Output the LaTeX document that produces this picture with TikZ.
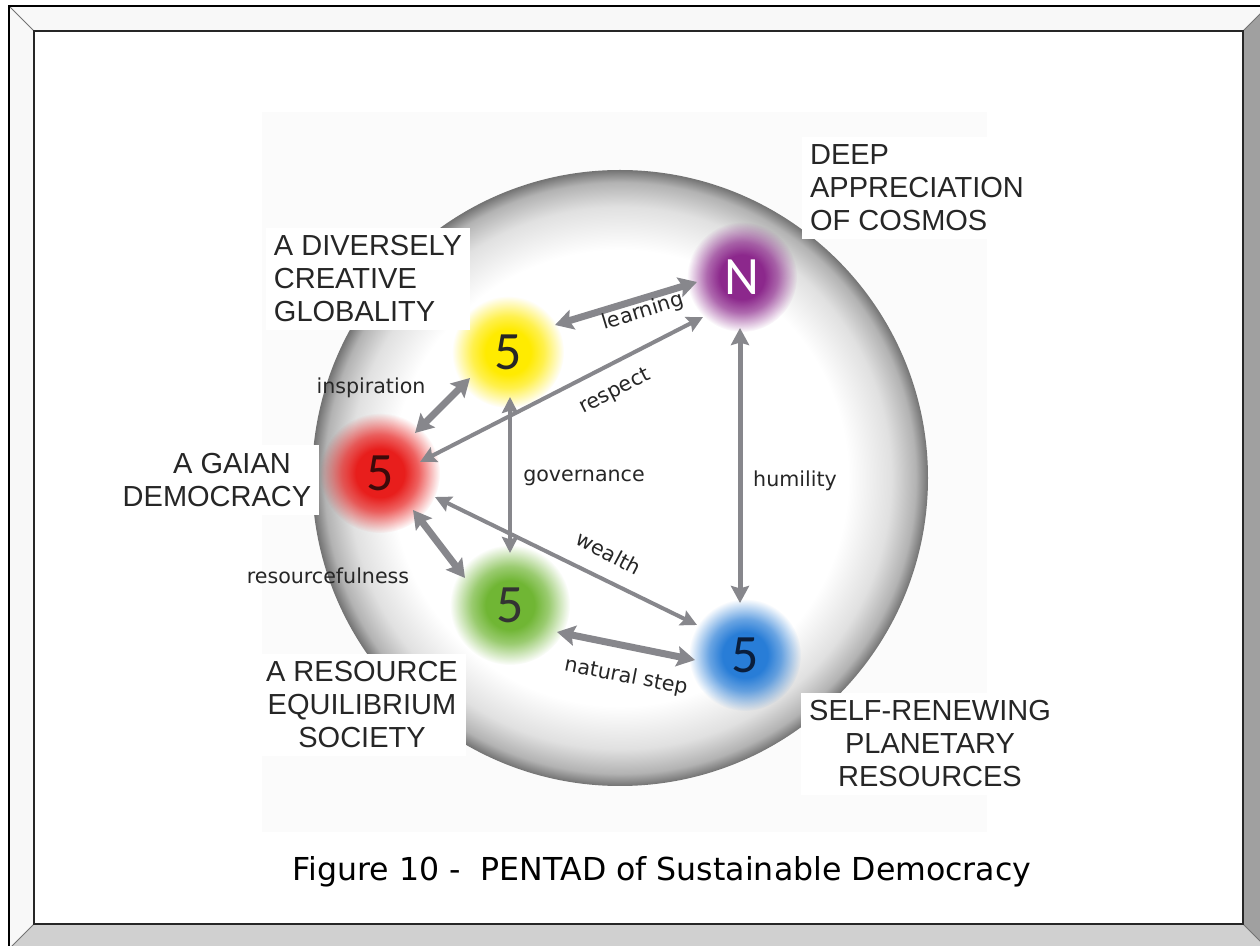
\documentclass[tikz,border=0pt]{standalone}
\usepackage{fontspec}
\setmainfont{Liberation Sans}
\newfontfamily\edgefont{DejaVu Sans}
\newfontfamily\numfont{Carlito}
\usetikzlibrary{arrows.meta,fadings}
\pgfdeclareradialshading{glowshade}{\pgfpointorigin}{color(0bp)=(pgftransparent!0); color(10bp)=(pgftransparent!0); color(16bp)=(pgftransparent!30); color(25bp)=(pgftransparent!100); color(50bp)=(pgftransparent!100)}
\pgfdeclarefading{glowfade}{\pgfuseshading{glowshade}}
\pgfdeclareradialshading{sphereshade}{\pgfpointorigin}{color(0bp)=(white); color(18.5bp)=(white); color(22bp)=(black!12); color(24bp)=(black!30); color(25bp)=(black!55); color(50bp)=(black!55)}
\definecolor{cpurple}{RGB}{140,40,140}
\definecolor{cyellow}{RGB}{255,235,0}
\definecolor{cred}{RGB}{232,30,28}
\definecolor{cgreen}{RGB}{112,182,52}
\definecolor{cblue}{RGB}{40,125,215}
\definecolor{arrgray}{RGB}{135,135,140}
\definecolor{bevlight}{RGB}{248,248,248}
\definecolor{bevdark}{RGB}{160,160,160}
\definecolor{bevmid}{RGB}{208,208,208}
\pgfdeclarelayer{back}
\pgfdeclarelayer{glowl}
\pgfsetlayers{back,glowl,main}
\begin{document}
\begin{tikzpicture}[x=0.5pt,y=-0.5pt,
  ball/.style={circle, minimum size=90pt, inner sep=0pt, font=\numfont\fontsize{27}{27}\selectfont},
  biglabel/.style={font=\fontsize{14.5}{16.5}\selectfont, fill=white, inner sep=4pt, text=black!85},
  elabel/.style={font=\edgefont\fontsize{10.3}{12}\selectfont, text=black!85, inner sep=1pt},
  thickarr/.style={draw=arrgray, line width=3.5pt, {Stealth[length=9pt,width=10pt,inset=1.5pt]}-{Stealth[length=9pt,width=10pt,inset=1.5pt]}},
  thinarr/.style={draw=arrgray, line width=2pt, {Stealth[length=8pt,width=8pt,inset=1.2pt]}-{Stealth[length=8pt,width=8pt,inset=1.2pt]}},
  midarr/.style={draw=arrgray, line width=2.5pt, {Stealth[length=8.5pt,width=9pt,inset=1.2pt]}-{Stealth[length=8.5pt,width=9pt,inset=1.2pt]}}
]
\useasboundingbox (0,0) rectangle (1260,946);
\begin{pgfonlayer}{back}
\clip (0,0) rectangle (1260,946);
\fill[white] (0,0) rectangle (1260,946);
% frame
\fill[bevlight] (9,6) -- (1268,6) -- (1243,31) -- (34,31) -- cycle;
\fill[bevlight] (9,6) -- (34,31) -- (34,924) -- (9,949) -- cycle;
\fill[bevdark] (1268,6) -- (1268,949) -- (1243,924) -- (1243,31) -- cycle;
\fill[bevmid] (9,949) -- (1268,949) -- (1243,924) -- (34,924) -- cycle;
\draw[black!55, line width=0.5pt] (9,6) -- (34,31) (1268,6) -- (1243,31) (9,949) -- (34,924) (1268,949) -- (1243,924);
\draw[black, line width=1pt] (9,949) -- (9,6) -- (1268,6);
\draw[black!85, line width=1.2pt] (34,31) rectangle (1243,924);
% background square
\fill[black!1.5] (262,112) rectangle (987,832);
% sphere
\shade[shading=sphereshade] (620,478) circle (308);
\end{pgfonlayer}
% balls
\node[ball, text=white] (N) at (742,277) {N};
\node[ball, text=black!85] (Y) at (508,352) {5};
\node[ball, text={rgb,255:red,60;green,10;blue,10}] (R) at (380,473) {5};
\node[ball, text=black!80] (G) at (510,605) {5};
\node[ball, text={rgb,255:red,10;green,30;blue,60}] (B) at (745,655) {5};
\begin{pgfonlayer}{glowl}
\fill[cpurple, path fading=glowfade] (N) circle (55);
\fill[cyellow, path fading=glowfade] (Y) circle (56);
\fill[cred, path fading=glowfade] (R) circle (60);
\fill[cgreen, path fading=glowfade] (G) circle (60);
\fill[cblue, path fading=glowfade] (B) circle (56);
\end{pgfonlayer}
% arrows
\draw[thickarr] ([shift={(47,-27)}]Y.center) -- ([shift={(-45,5)}]N.center);
\draw[thinarr] ([shift={(40,-11)}]R.center) -- ([shift={(-39,40)}]N.center);
\draw[thickarr] ([shift={(35,-40)}]R.center) -- ([shift={(-38,26)}]Y.center);
\draw[thinarr] ([shift={(2,45)}]Y.center) -- ([shift={(0,-52)}]G.center);
\draw[midarr] ([shift={(-2,51)}]N.center) -- ([shift={(-5,-52)}]B.center);
\draw[thinarr] ([shift={(55,24)}]R.center) -- ([shift={(-48,-30)}]B.center);
\draw[thickarr] ([shift={(33,37)}]R.center) -- ([shift={(-45,-27)}]G.center);
\draw[thickarr] ([shift={(47,27)}]G.center) -- ([shift={(-50,5)}]B.center);
% edge labels
\node[elabel, rotate=17] (lLearn) at (643,312) {learning};
\node[elabel, rotate=27] (lResp) at (615,392) {respect};
\node[elabel] (lInsp) at (371,388) {inspiration};
\node[elabel] (lGov) at (584,478) {governance};
\node[elabel] (lHum) at (795,481) {humility};
\node[elabel, rotate=-28] (lWealth) at (609,553) {wealth};
\node[elabel] (lRes) at (328,576) {resourcefulness};
\node[elabel, rotate=-11] (lNat) at (626,677) {natural step};
% big labels
\node[biglabel, align=left] (tDeep) at (917,188) {DEEP\\APPRECIATION\\OF COSMOS};
\node[biglabel, align=left] (tDiv) at (368,279) {A DIVERSELY\\CREATIVE\\GLOBALITY};
\node[biglabel, align=center] (tGaian) at (217,480) {\hspace*{15pt}A GAIAN\\DEMOCRACY};
\node[biglabel, align=center] (tRes) at (362,705) {A RESOURCE\\EQUILIBRIUM\\SOCIETY};
\node[biglabel, align=center] (tSelf) at (930,744) {SELF-RENEWING\\PLANETARY\\RESOURCES};
% caption
\node[font=\edgefont\fontsize{15.8}{18}\selectfont, text=black] (cap) at (662,872) {Figure 10 - \ PENTAD of Sustainable Democracy};
\end{tikzpicture}
\end{document}
